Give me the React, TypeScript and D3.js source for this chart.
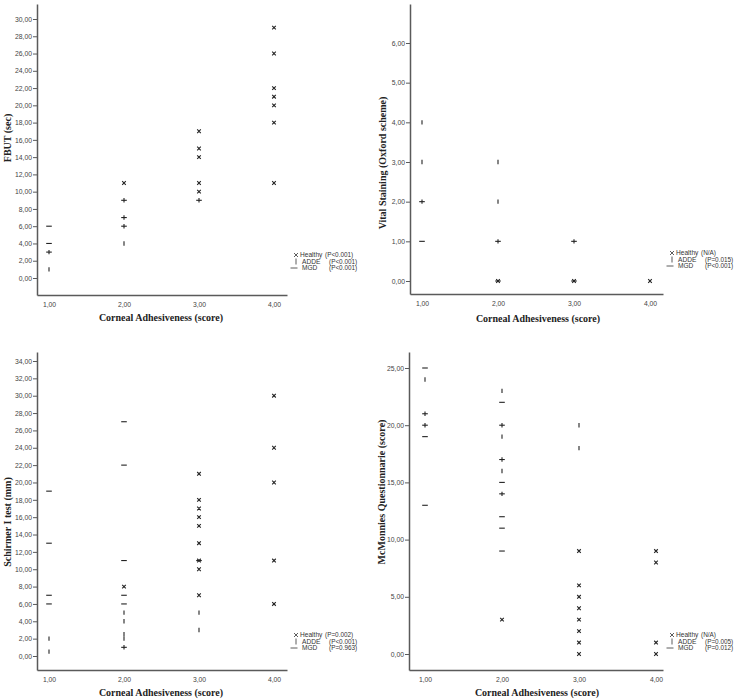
import React, { useRef, useEffect } from 'react';
import * as d3 from 'd3';

type Pt = [number, number];

// x axis: corneal adhesiveness score
const scoreTicks = [1, 2, 3, 4];
const groupNames = ['Healthy', 'ADDE', 'MGD'];

// FBUT (sec)
const fbutTicks = [0, 2, 4, 6, 8, 10, 12, 14, 16, 18, 20, 22, 24, 26, 28, 30];
const fbutHealthy: Pt[] = [[2, 11], [3, 17], [3, 15], [3, 14], [3, 11], [3, 10], [4, 29], [4, 26], [4, 22], [4, 21], [4, 20], [4, 18], [4, 11]];
const fbutAdde: Pt[] = [[1, 3], [1, 1], [2, 9], [2, 7], [2, 6], [2, 4], [3, 9]];
const fbutMgd: Pt[] = [[1, 6], [1, 4], [1, 3], [2, 9], [2, 7], [2, 6], [3, 9]];
const fbutP = ['(P<0.001)', '(P<0.001)', '(P<0.001)'];

// Vital staining (Oxford scheme)
const stainTicks = [0, 1, 2, 3, 4, 5, 6];
const stainHealthy: Pt[] = [[2, 0], [3, 0], [4, 0]];
const stainAdde: Pt[] = [[1, 4], [1, 3], [1, 2], [2, 3], [2, 2], [2, 1], [3, 1]];
const stainMgd: Pt[] = [[1, 2], [1, 1], [2, 1], [2, 0], [3, 1], [3, 0]];
const stainP = ['(N/A)', '(P=0.015)', '(P<0.001)'];

// Schirmer I test (mm)
const schirmerTicks = [0, 2, 4, 6, 8, 10, 12, 14, 16, 18, 20, 22, 24, 26, 28, 30, 32, 34];
const schirmerHealthy: Pt[] = [[2, 8], [3, 21], [3, 18], [3, 17], [3, 16], [3, 15], [3, 13], [3, 11], [3, 10], [3, 7], [4, 30], [4, 24], [4, 20], [4, 11], [4, 6]];
const schirmerAdde: Pt[] = [[1, 2], [1, 0.5], [2, 5], [2, 4], [2, 2.5], [2, 2], [2, 1], [3, 5], [3, 3]];
const schirmerMgd: Pt[] = [[1, 19], [1, 13], [1, 7], [1, 6], [2, 27], [2, 22], [2, 11], [2, 7], [2, 6], [2, 1], [3, 11]];
const schirmerP = ['(P=0.002)', '(P<0.001)', '(P=0.963)'];

// McMonnies questionnaire (score)
const mcmTicks = [0, 5, 10, 15, 20, 25];
const mcmHealthy: Pt[] = [[2, 3], [3, 9], [3, 6], [3, 5], [3, 4], [3, 3], [3, 2], [3, 1], [3, 0], [4, 9], [4, 8], [4, 1], [4, 0]];
const mcmAdde: Pt[] = [[1, 24], [1, 21], [1, 20], [2, 23], [2, 20], [2, 19], [2, 17], [2, 16], [2, 14], [3, 20], [3, 18]];
const mcmMgd: Pt[] = [[1, 25], [1, 21], [1, 20], [1, 19], [1, 13], [2, 22], [2, 20], [2, 17], [2, 15], [2, 14], [2, 12], [2, 11], [2, 9]];
const mcmP = ['(N/A)', '(P=0.005)', '(P=0.012)'];

const panels = [
  {
    yTitle: 'FBUT (sec)', yTicks: fbutTicks, series: [fbutHealthy, fbutAdde, fbutMgd], pLabels: fbutP,
    box: { left: 37, right: 287, top: 4, bottom: 295 }, xPx: [49, 274], yPx: [278, 19],
    yTitlePos: [7, 138], xTitlePos: [161, 321], legend: [296, 255],
  },
  {
    yTitle: 'Vital Staining (Oxford scheme)', yTicks: stainTicks, series: [stainHealthy, stainAdde, stainMgd], pLabels: stainP,
    box: { left: 410, right: 663, top: 4, bottom: 294 }, xPx: [422, 650], yPx: [281, 43],
    yTitlePos: [382, 163], xTitlePos: [538, 322], legend: [672, 253],
  },
  {
    yTitle: 'Schirmer I test (mm)', yTicks: schirmerTicks, series: [schirmerHealthy, schirmerAdde, schirmerMgd], pLabels: schirmerP,
    box: { left: 37, right: 287, top: 352, bottom: 670 }, xPx: [49, 274], yPx: [656, 361],
    yTitlePos: [7, 522], xTitlePos: [161, 696], legend: [296, 635],
  },
  {
    yTitle: 'McMonnies Questionnarie (score)', yTicks: mcmTicks, series: [mcmHealthy, mcmAdde, mcmMgd], pLabels: mcmP,
    box: { left: 409, right: 663, top: 352, bottom: 670 }, xPx: [425, 656], yPx: [654, 368],
    yTitlePos: [381, 492], xTitlePos: [537, 696], legend: [672, 635],
  },
];

// marker shapes: x for Healthy, vertical tick for ADDE, dash for MGD
const markerPaths = [
  'M-1.8,-1.8L1.8,1.8M-1.8,1.8L1.8,-1.8',
  'M0,-2.2V2.2',
  'M-2.8,0H2.8',
];
const legendPaths = [
  'M-2,-2L2,2M-2,2L2,-2',
  'M0,-3V3',
  'M-5.5,0H1.5',
];

const fmt = (v: number) => v.toFixed(2).replace('.', ',');

function App() {
  const svgRef = useRef<SVGSVGElement>(null);

  useEffect(() => {
    const svg = d3.select(svgRef.current);
    svg.selectAll('*').remove();

    panels.forEach(p => {
      const b = p.box;
      const x0 = d3.scaleLinear().domain([1, 4]).range(p.xPx);
      const x = d3.scaleLinear().domain([x0.invert(b.left), x0.invert(b.right)]).range([b.left, b.right]);
      const y0 = d3.scaleLinear().domain([0, p.yTicks[p.yTicks.length - 1]]).range(p.yPx);
      const y = d3.scaleLinear().domain([y0.invert(b.bottom), y0.invert(b.top)]).range([b.bottom, b.top]);

      const g = svg.append('g');

      // y axis
      const ya = g.append('g')
        .attr('transform', `translate(${b.left},0)`)
        .call(d3.axisLeft(y).tickValues(p.yTicks).tickFormat(d => fmt(+d)).tickSize(4).tickSizeOuter(0).tickPadding(1));
      // x axis
      const xa = g.append('g')
        .attr('transform', `translate(0,${b.bottom})`)
        .call(d3.axisBottom(x).tickValues(scoreTicks).tickFormat(d => fmt(+d)).tickSize(0).tickSizeOuter(0).tickPadding(7));

      [ya, xa].forEach(a => {
        a.select('.domain').attr('stroke', '#5a5a5a').attr('stroke-width', 1.5);
        a.selectAll('.tick line').attr('stroke', '#5a5a5a').attr('stroke-width', 1);
        a.selectAll('.tick text')
          .attr('fill', '#444')
          .style('font-family', '"Liberation Sans", Arial, sans-serif')
          .style('font-size', '6.8px');
      });

      // points
      p.series.forEach((pts, gi) => {
        g.append('g').selectAll('path')
          .data(pts)
          .enter().append('path')
          .attr('transform', d => `translate(${x(d[0])},${y(d[1])})`)
          .attr('d', markerPaths[gi])
          .attr('fill', 'none')
          .attr('stroke', '#222')
          .attr('stroke-width', 1.1);
      });

      // axis titles
      g.append('text')
        .attr('x', p.xTitlePos[0])
        .attr('y', p.xTitlePos[1])
        .attr('text-anchor', 'middle')
        .style('font-family', '"Liberation Serif", "Times New Roman", serif')
        .style('font-weight', 'bold')
        .style('font-size', '10px')
        .attr('fill', '#222')
        .text('Corneal Adhesiveness (score)');

      g.append('text')
        .attr('transform', `translate(${p.yTitlePos[0] + 3.5},${p.yTitlePos[1]}) rotate(-90)`)
        .attr('text-anchor', 'middle')
        .style('font-family', '"Liberation Serif", "Times New Roman", serif')
        .style('font-weight', 'bold')
        .style('font-size', '10px')
        .attr('fill', '#222')
        .text(p.yTitle);

      // legend
      const [lx, ly] = p.legend;
      const leg = g.append('g').attr('transform', `translate(${lx},${ly})`);
      groupNames.forEach((name, i) => {
        const row = leg.append('g').attr('transform', `translate(0,${i * 6.5})`);
        row.append('path')
          .attr('d', legendPaths[i])
          .attr('fill', 'none')
          .attr('stroke', '#333')
          .attr('stroke-width', 0.8);
        row.append('text')
          .attr('x', i === 0 ? 4 : 6)
          .attr('dy', '0.35em')
          .style('font-family', '"Liberation Sans", Arial, sans-serif')
          .style('font-size', '6.6px')
          .attr('fill', '#333')
          .text(name);
        row.append('text')
          .attr('x', i === 0 ? 29 : 33)
          .attr('dy', '0.35em')
          .style('font-family', '"Liberation Sans", Arial, sans-serif')
          .style('font-size', '6.4px')
          .attr('fill', '#333')
          .text(p.pLabels[i]);
      });
    });
  }, []);

  return (
    <svg
      ref={svgRef}
      width={736}
      height={700}
      style={{ position: 'absolute', left: 0, top: 0, background: '#fff' }}
    />
  );
}

export default App;
